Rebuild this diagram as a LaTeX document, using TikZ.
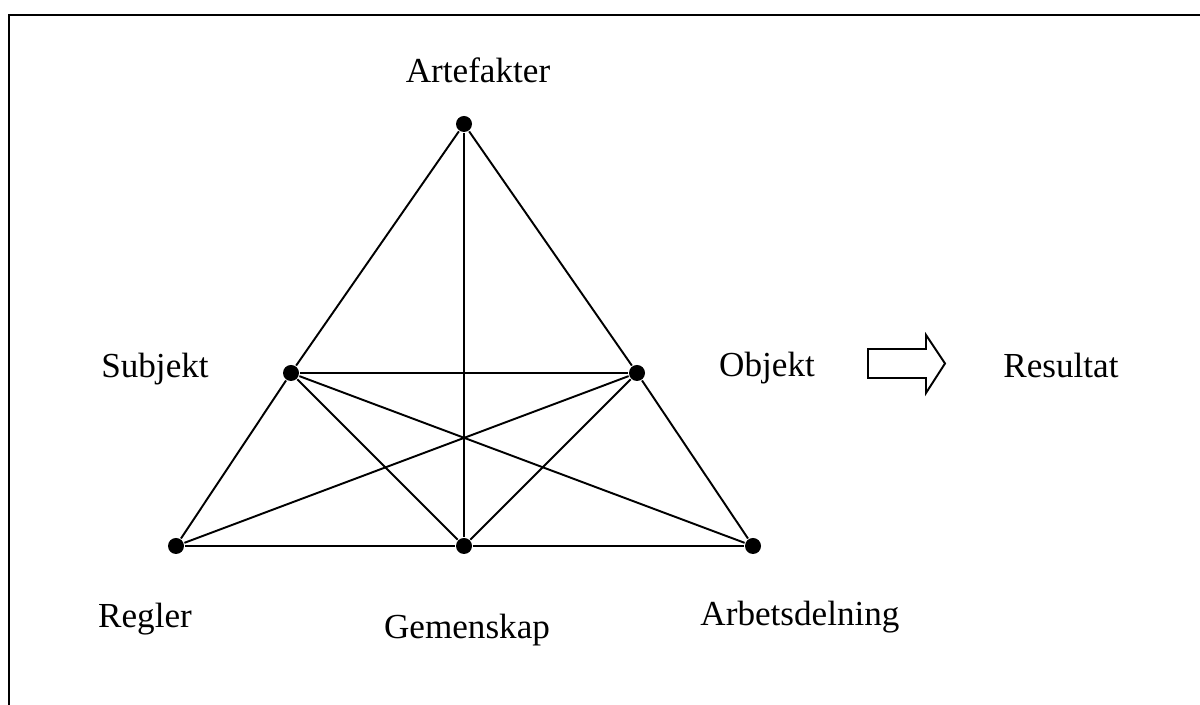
\documentclass[tikz,border=0pt]{standalone}
\usepackage{fontspec}
\setmainfont{Liberation Serif}
\usetikzlibrary{positioning}

\begin{document}
\begin{tikzpicture}[x=0.02cm,y=0.02cm,line width=1.1pt,
  punkt/.style={circle,fill=black,inner sep=0pt,minimum size=0.32cm},
  etikett/.style={anchor=base,inner sep=0pt,font=\fontsize{20}{24}\selectfont}]

  \useasboundingbox (0,0) rectangle (1200,705);

  % Ram
  \draw[line width=1.6pt] (1200,690) -- (9,690) -- (9,0);

  % Punkter
  \node[punkt] (A) at (464,581) {};
  \node[punkt] (S) at (291,332) {};
  \node[punkt] (O) at (637,332) {};
  \node[punkt] (R) at (176,159) {};
  \node[punkt] (G) at (464,159) {};
  \node[punkt] (D) at (753,159) {};

  % Etiketter
  \node[etikett] (artefakter) at (478,622) {Artefakter};
  \node[etikett] (subjekt) at (155,327) {Subjekt};
  \node[etikett] (objekt) at (767,328) {Objekt};
  \node[etikett] (resultat) at (1061,327) {Resultat};
  \node[etikett] (regler) at (145,77) {Regler};
  \node[etikett] (gemenskap) at (467,66) {Gemenskap};
  \node[etikett] (arbetsdelning) at (800,79) {Arbetsdelning};

  % Linjer
  \path[draw]
    (A) edge (S)
    (S) edge (R)
    (A) edge (O)
    (O) edge (D)
    (A) edge (G)
    (S) edge (O)
    (S) edge (G)
    (O) edge (G)
    (S) edge (D)
    (O) edge (R)
    (R) edge (G)
    (G) edge (D);

  % Pil
  \draw[line join=miter] (868,356) -- (926,356) -- (926,370) -- (945,341.5)
    -- (926,312) -- (926,327) -- (868,327) -- cycle;

\end{tikzpicture}
\end{document}
